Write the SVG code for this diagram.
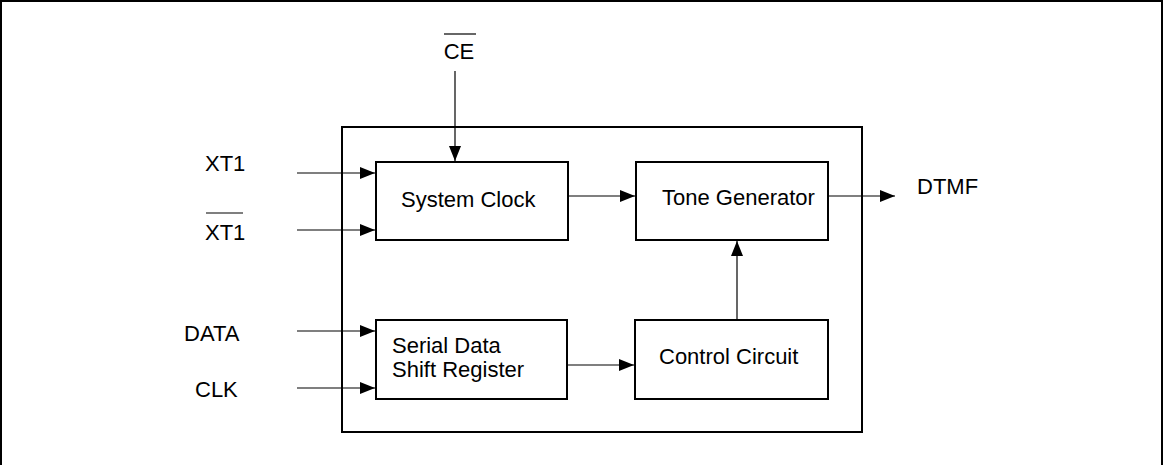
<svg xmlns="http://www.w3.org/2000/svg" width="1163" height="465" viewBox="0 0 1163 465">
<style>
.box{fill:#fff;stroke:#000;stroke-width:2}
.ln{stroke:#000;stroke-width:1.2;fill:none}
.ov{stroke:#000;stroke-width:1.2}
text{font-family:"Liberation Sans",Arial,sans-serif;font-size:22px;fill:#000}
</style>
<defs>
<marker id="ah" markerUnits="userSpaceOnUse" markerWidth="16" markerHeight="12" refX="15" refY="6" orient="auto">
<path d="M0,0 L15,6 L0,12 Z" fill="#000"/>
</marker>
</defs>
<rect x="0" y="0" width="1163" height="465" fill="#fff"/>
<path d="M1,465 V1 H1162 V465" fill="none" stroke="#000" stroke-width="2"/>
<g id="chip"><rect class="box" x="342" y="127" width="520" height="305"/></g>
<g id="sysclk"><rect class="box" x="376" y="162" width="192" height="78"/><text x="401" y="207">System Clock</text></g>
<g id="tonegen"><rect class="box" x="636" y="162" width="192" height="78"/><text x="662" y="205">Tone Generator</text></g>
<g id="shiftreg"><rect class="box" x="376" y="320" width="191" height="79"/><text x="392" y="353">Serial Data</text><text x="392" y="377">Shift Register</text></g>
<g id="ctrl"><rect class="box" x="635" y="320" width="193" height="79"/><text x="659" y="364">Control Circuit</text></g>
<g id="labels">
<text x="459" y="59" text-anchor="middle">CE</text><line class="ov" x1="444" y1="34" x2="476" y2="34"/>
<text x="205" y="171">XT1</text>
<text x="205" y="240">XT1</text><line class="ov" x1="206" y1="213" x2="243" y2="213"/>
<text x="184" y="341">DATA</text>
<text x="195" y="397">CLK</text>
<text x="917" y="194">DTMF</text>
</g>
<g id="connectors">
<line class="ln" x1="455" y1="71" x2="455" y2="161" marker-end="url(#ah)"/>
<line class="ln" x1="297" y1="173" x2="375" y2="173" marker-end="url(#ah)"/>
<line class="ln" x1="297" y1="230" x2="375" y2="230" marker-end="url(#ah)"/>
<line class="ln" x1="297" y1="331" x2="375" y2="331" marker-end="url(#ah)"/>
<line class="ln" x1="297" y1="388" x2="375" y2="388" marker-end="url(#ah)"/>
<line class="ln" x1="568" y1="196" x2="635" y2="196" marker-end="url(#ah)"/>
<line class="ln" x1="828" y1="196" x2="895" y2="196" marker-end="url(#ah)"/>
<line class="ln" x1="567" y1="365" x2="634" y2="365" marker-end="url(#ah)"/>
<line class="ln" x1="737" y1="320" x2="737" y2="241" marker-end="url(#ah)"/>
</g>
</svg>
